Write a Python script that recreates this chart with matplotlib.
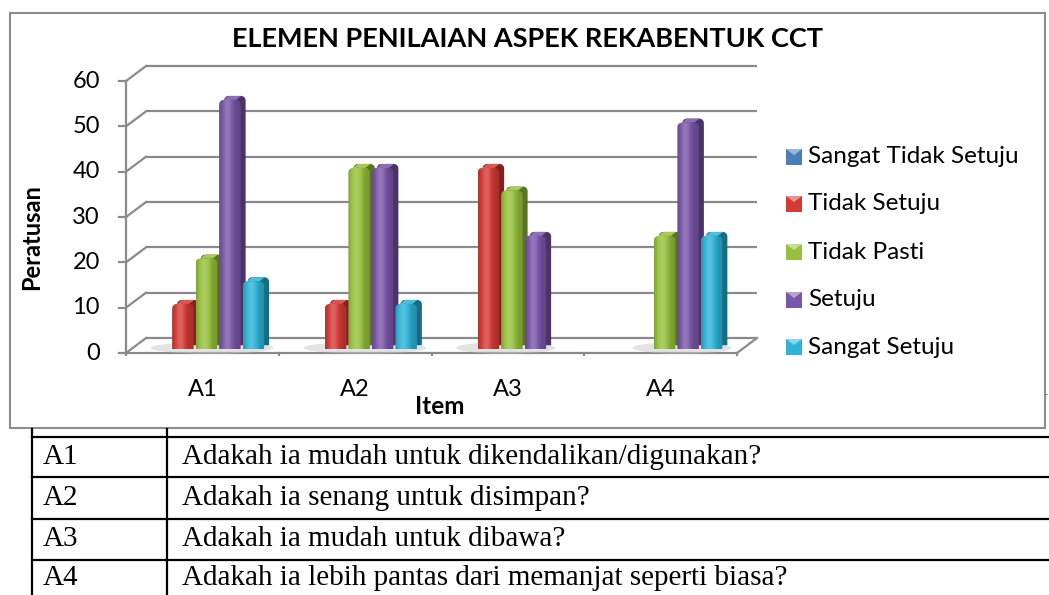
import numpy as np
import matplotlib.pyplot as plt
from matplotlib.colors import to_rgb
from matplotlib.lines import Line2D
from matplotlib.patches import Ellipse, Polygon, Rectangle

CATEGORIES = ["A1", "A2", "A3", "A4"]
SERIES = ["Sangat Tidak Setuju", "Tidak Setuju", "Tidak Pasti", "Setuju", "Sangat Setuju"]
sangat_tidak_setuju = [0, 0, 0, 0]
tidak_setuju = [10, 10, 40, 0]
tidak_pasti = [20, 40, 35, 25]
setuju = [55, 40, 25, 50]
sangat_setuju = [15, 10, 0, 25]
Y_TICKS = [0, 10, 20, 30, 40, 50, 60]
TITLE = "ELEMEN PENILAIAN ASPEK REKABENTUK CCT"
QUESTIONS = [
    "Adakah ia mudah untuk dikendalikan/digunakan?",
    "Adakah ia senang untuk disimpan?",
    "Adakah ia mudah untuk dibawa?",
    "Adakah ia lebih pantas dari memanjat seperti biasa?",
]

VALUES = [sangat_tidak_setuju, tidak_setuju, tidak_pasti, setuju, sangat_setuju]
COLORS = ["#4A7EBB", "#D23B36", "#97C03E", "#7A56A8", "#2DB3D6"]

W_PX, H_PX = 1049, 595
FONT = "Lato"
GRID = "#8a8a8a"

# pixel scale of the back wall
PX_X = 152.75          # px per category
PX_Y = 4.533           # px per value unit
X0_PX, Y0_PX = 146, 338  # back wall origin
XLIM = (-0.25, 4.15)
YLIM = (-4, 62)

# depth offset of the front plane, in data units
DX = -20 / PX_X
DY = -15 / PX_Y
BAR_DEPTH = 0.75       # bars sit 3/4 of the way to the front
SLOT = 23.5 / PX_X
FACE = 21.5 / PX_X
SIDE_X = 5 / PX_X
SIDE_Y = 4 / PX_Y
RX = 4.5 / PX_X
RY = 4.5 / PX_Y


def fx(px):
    return px / W_PX


def fy(py):
    return 1 - py / H_PX


def shade(color, k):
    r, g, b = to_rgb(color)
    if k < 1:
        return (r * k, g * k, b * k)
    t = k - 1
    return (r + (1 - r) * t, g + (1 - g) * t, b + (1 - b) * t)


def rounded_top(x0, x1, y0, y1):
    # outline of a column face with rounded top corners
    t = np.linspace(0, np.pi / 2, 8)
    pts = [(x0, y0), (x1, y0)]
    pts += [(x1 - RX + RX * np.cos(a), y1 - RY + RY * np.sin(a)) for a in t]
    pts += [(x0 + RX - RX * np.cos(a), y1 - RY + RY * np.sin(a)) for a in t[::-1]]
    return pts


fig = plt.figure(figsize=(W_PX / 100, H_PX / 100), dpi=100)

left_px = X0_PX + XLIM[0] * PX_X
right_px = X0_PX + XLIM[1] * PX_X
bottom_px = Y0_PX - YLIM[0] * PX_Y
top_px = Y0_PX - YLIM[1] * PX_Y
ax = fig.add_axes([fx(left_px), fy(bottom_px), fx(right_px - left_px), (bottom_px - top_px) / H_PX])
ax.set_xlim(*XLIM)
ax.set_ylim(*YLIM)
ax.axis("off")

n_cat = len(CATEGORIES)

# back wall gridlines and left wall diagonals
for v in Y_TICKS:
    ax.plot([0, n_cat], [v, v], color=GRID, lw=1.6, zorder=1, solid_capstyle="butt")
    ax.plot([DX, 0], [v + DY, v], color=GRID, lw=1.6, zorder=1)
    ax.plot([DX - 7 / PX_X, DX], [v + DY, v + DY], color=GRID, lw=1.6, zorder=1)
    ax.text(DX - 26 / PX_X, v + DY, str(v), ha="right", va="center", fontsize=17,
            family=FONT, color="black")

# front vertical axis and floor
ax.plot([DX, DX], [DY, Y_TICKS[-1] + DY], color=GRID, lw=1.6, zorder=1)
ax.plot([DX, n_cat + DX], [DY, DY], color=GRID, lw=1.6, zorder=1)
ax.plot([n_cat + DX, n_cat], [DY, 0], color=GRID, lw=1.6, zorder=1)
for i in range(n_cat + 1):
    ax.plot([i + DX, i + DX], [DY, DY - 7 / PX_Y], color=GRID, lw=1.6, zorder=1)
for i, cat in enumerate(CATEGORIES):
    ax.text(i + 0.5 + DX, DY - 36 / PX_Y, cat, ha="center", va="center", fontsize=17,
            family=FONT, color="black")

# bars
bx = BAR_DEPTH * DX
by = BAR_DEPTH * DY
grad = np.linspace(0, 1, 64)
grad_k = 0.8 + 0.4 * np.exp(-((grad - 0.38) / 0.28) ** 2)
z = 3
for i in range(n_cat):
    shown = [k for k, vals in enumerate(VALUES) if vals[i] > 0]
    g_left = i + 0.5 + (shown[0] - 2.5) * SLOT + bx
    g_right = i + 0.5 + (shown[-1] - 2.5) * SLOT + bx + FACE
    ax.add_patch(Ellipse(((g_left + g_right) / 2 - 0.04, by + 0.3), g_right - g_left + 0.2, 2.6,
                         facecolor="#c8c8c8", edgecolor="none", alpha=0.5, zorder=2))
    for k, vals in enumerate(VALUES):
        h = vals[i]
        if h <= 0:
            continue
        color = COLORS[k]
        x0 = i + 0.5 + (k - 2.5) * SLOT + bx
        x1 = x0 + FACE
        y0 = by
        y1 = by + h
        back = rounded_top(x0 + SIDE_X, x1 + SIDE_X, y0 + SIDE_Y, y1 + SIDE_Y)
        ax.add_patch(Polygon(back, closed=True, facecolor=shade(color, 0.6), edgecolor="none",
                             zorder=z))
        side = Polygon([(x0 + RX, y1), (x1 - RX, y1), (x1 - RX + SIDE_X, y1 + SIDE_Y),
                        (x0 + RX + SIDE_X, y1 + SIDE_Y)],
                       closed=True, facecolor=shade(color, 1.15), edgecolor="none", zorder=z)
        ax.add_patch(side)
        face = Polygon(rounded_top(x0, x1, y0, y1), closed=True, facecolor="none",
                       edgecolor="none", zorder=z + 1)
        ax.add_patch(face)
        rgb = np.clip(np.array([[shade(color, kk) for kk in grad_k]]), 0, 1)
        im = ax.imshow(rgb, extent=[x0, x1, y0, y1], aspect="auto", zorder=z + 1,
                       interpolation="bilinear")
        im.set_clip_path(face)
        z += 2

ax.set_xlim(*XLIM)
ax.set_ylim(*YLIM)

# chart frame
fig.add_artist(Rectangle((fx(10), fy(428)), fx(1035), (428 - 13) / H_PX, transform=fig.transFigure,
                         facecolor="none", edgecolor="#8c8c8c", lw=1.5))

fig.text(fx(528), fy(39), TITLE, ha="center", va="center", fontsize=19.5, fontweight="bold",
         family=FONT)
fig.text(fx(32), fy(237), "Peratusan", ha="center", va="center", rotation=90, fontsize=17,
         fontweight="bold", family=FONT)
fig.text(fx(440), fy(406), "Item", ha="center", va="center", fontsize=17.5, fontweight="bold",
         family=FONT)

# legend
leg_y = [157, 204, 252, 300, 347]
for label, color, yy in zip(SERIES, COLORS, leg_y):
    fig.add_artist(Rectangle((fx(786), fy(yy + 8)), fx(16), 16 / H_PX, transform=fig.transFigure,
                             facecolor=color, edgecolor="none"))
    fig.add_artist(Polygon([(fx(786), fy(yy - 8)), (fx(802), fy(yy - 8)), (fx(794), fy(yy - 2))],
                           closed=True, transform=fig.transFigure,
                           facecolor=shade(color, 1.45), edgecolor="none"))
    fig.text(fx(808), fy(yy), label, ha="left", va="center", fontsize=17.5, family=FONT)

fig.text(fx(1047), fy(392), ".", ha="center", va="center", fontsize=8)

# question table below the chart
row_lines = [437, 477, 519, 560]
for yy in row_lines:
    fig.add_artist(Line2D([fx(32), 1], [fy(yy), fy(yy)], transform=fig.transFigure,
                          color="black", lw=1.6))
for xx in [32, 167]:
    fig.add_artist(Line2D([fx(xx), fx(xx)], [fy(429), 0], transform=fig.transFigure,
                          color="black", lw=1.6))
row_mid = [457, 498, 539.5, 578]
for cat, q, yy in zip(CATEGORIES, QUESTIONS, row_mid):
    fig.text(fx(43), fy(yy), cat, ha="left", va="center", fontsize=21,
             family="Liberation Serif")
    fig.text(fx(182), fy(yy), q, ha="left", va="center", fontsize=21,
             family="Liberation Serif")

fig.savefig("out.png", dpi=100)
